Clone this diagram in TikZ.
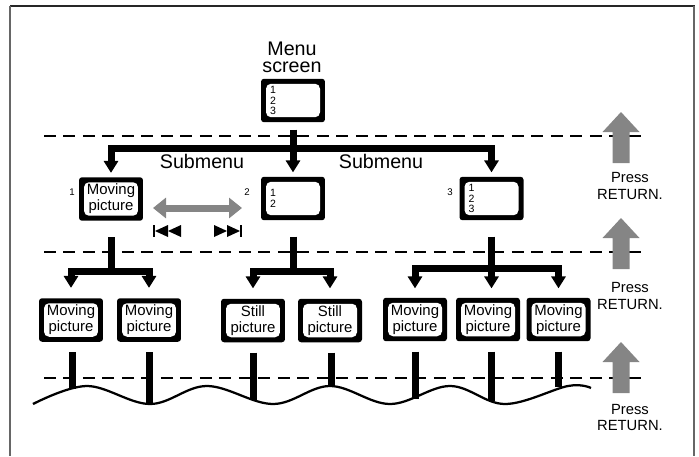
\documentclass[tikz,border=0pt]{standalone}
\usepackage{fontspec}
\setmainfont{Liberation Sans}
\usetikzlibrary{arrows.meta, positioning, calc}
\definecolor{pressgray}{HTML}{858585}

\begin{document}
\begin{tikzpicture}[x=0.02cm, y=-0.02cm,
    screen/.style={fill=black, rounded corners=0.06cm, inner sep=0pt,
        minimum width=1.28cm, minimum height=0.87cm, align=center,
        font=\fontsize{8.5}{9}\selectfont,
        path picture={\fill[white, rounded corners=0.1cm]
            ([shift={(0.1cm,-0.1cm)}]path picture bounding box.north west) rectangle
            ([shift={(-0.1cm,0.1cm)}]path picture bounding box.south east);}},
    menubox/.style={screen, align=left, text width=0.92cm, inner xsep=0.18cm,
        font=\fontsize{6}{6}\selectfont},
    caption/.style={align=center, inner sep=0pt, font=\fontsize{11.2}{9.6}\selectfont},
    press/.style={align=center, inner sep=0pt, font=\fontsize{8.4}{9.6}\selectfont},
    num/.style={inner sep=0pt, font=\fontsize{5.5}{6}\selectfont},
    bar/.style={line width=0.14cm, >={Triangle[width=0.28cm, length=0.24cm]}},
    level/.style={line width=0.04cm, dash pattern=on 0.24cm off 0.15cm},
    wave/.style={line width=0.045cm}]

    \useasboundingbox (0,0) rectangle (699,456);

    % Frame
    \draw[line width=0.04cm, black!85] (10,6) -- (695,6);
    \draw[line width=0.04cm, black!60] (10,6) -- (10,456) (694,6) -- (694,456);

    % Levels
    \foreach \y in {136, 252, 378}
        \draw[level] (44,\y) -- (648,\y);

    % Press RETURN arrows
    \foreach \t in {112, 218, 342}
        \fill[pressgray] (621,\t) -- ++(18.5,20) -- ++(-10,0) -- ++(0,31)
            -- ++(-17,0) -- ++(0,-31) -- ++(-10,0) -- cycle;
    \node[press] (p1) at (630,186) {Press\\RETURN.};
    \node[press] (p2) at (630,296) {Press\\RETURN.};
    \node[press] (p3) at (630,417.5) {Press\\RETURN.};

    % Menu screen
    \node[caption] (title) at (292,57.5) {Menu\\screen};
    \node[menubox] (menu) at (293,100.5) {1\\2\\3};

    % Submenus
    \node[screen] (b1) at (111,199) {Moving\\picture};
    \node[menubox] (b2) at (293,198.5) {1\\2};
    \node[menubox] (b3) at (491.5,198.5) {1\\2\\3};
    \node[num] (n1) at (72,192) {1};
    \node[num] (n2) at (247,192) {2};
    \node[num] (n3) at (450,192) {3};
    \node[caption] (s1) at (202,161.5) {Submenu};
    \node[caption] (s2) at (381,161.5) {Submenu};

    % Pictures
    \node[screen] (ma) at (71,320) {Moving\\picture};
    \node[screen] (mb) at (149,320) {Moving\\picture};
    \node[screen] (sa) at (253,320.5) {Still\\picture};
    \node[screen] (sb) at (330,320.5) {Still\\picture};
    \node[screen] (mc) at (415,319.5) {Moving\\picture};
    \node[screen] (md) at (488,319.5) {Moving\\picture};
    \node[screen] (me) at (558.5,319.5) {Moving\\picture};

    % Menu to submenus
    \coordinate (top) at (293,148.5);
    \draw[bar, <->, shorten <=0.08cm, shorten >=0.08cm] (b1) |- (top) -| (b3);
    \draw[bar, ->, shorten <=0.14cm, shorten >=0.08cm] (menu) -- (b2);

    % Submenus to pictures
    \coordinate (j1) at (111,271);
    \coordinate (j2) at (293,271);
    \coordinate (j3) at (491.5,268);
    \draw[bar, shorten <=0.32cm] (b1) -- (j1);
    \draw[bar, shorten <=0.32cm] (b2) -- (j2);
    \draw[bar, shorten <=0.32cm] (b3) -- (j3);
    \draw[bar, <->, shorten <=0.2cm, shorten >=0.2cm] (ma) |- (j1) -| (mb);
    \draw[bar, <->, shorten <=0.2cm, shorten >=0.2cm] (sa) |- (j2) -| (sb);
    \draw[bar, <->, shorten <=0.18cm, shorten >=0.18cm] (mc) |- (j3) -| (me);
    \draw[bar, ->, shorten >=0.18cm] (j3) -- (j3 |- md.north);

    % Scan arrow and skip marks
    \coordinate (rw) at (153,208);
    \coordinate (ff) at (242,208);
    \draw[pressgray, line width=0.14cm, {Triangle[width=0.4cm, length=0.26cm]}-{Triangle[width=0.4cm, length=0.26cm]}] (rw) -- (ff);
    \draw[line width=0.03cm] (154,225) -- (154,237) (241,225) -- (241,237);
    \foreach \x in {155, 168}
        \fill (\x,231) -- ++(13,-6) -- ++(0,12) -- cycle;
    \foreach \x in {240, 227}
        \fill (\x,231) -- ++(-13,-6) -- ++(0,12) -- cycle;

    % Wave
    \draw[wave] plot[smooth, tension=0.6] coordinates {(33,404) (87,386) (150,404)
        (207,386) (273,404) (330,386) (390,404) (450,386) (505,404) (568,386) (591,388)};
    \foreach \n/\x/\y [count=\i] in {ma/72/389, mb/149/404, sa/253/400, sb/331/386,
            mc/415/399, md/491.5/401, me/558/387} {
        \coordinate (w\i) at (\x,\y);
        \draw[bar, shorten <=0.2cm] (\n.south -| w\i) -- (w\i);
    }
\end{tikzpicture}
\end{document}
